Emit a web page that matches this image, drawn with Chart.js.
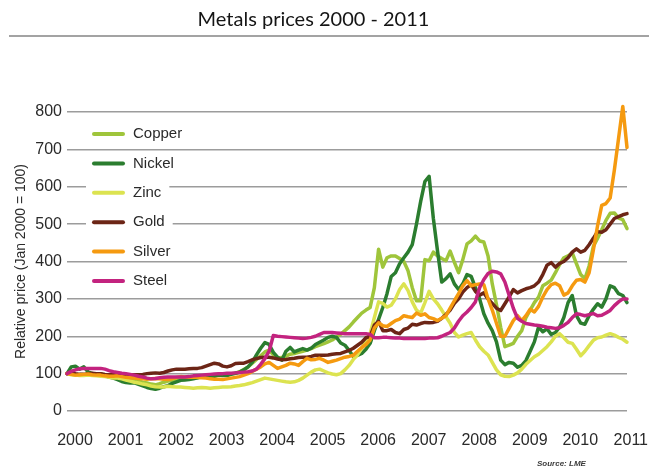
<!DOCTYPE html>
<html>
<head>
<meta charset="utf-8">
<title>Metals prices 2000 - 2011</title>
<script src="https://cdn.jsdelivr.net/npm/chart.js@4.4.1/dist/chart.umd.min.js"></script>
<style>
	html, body { margin: 0; padding: 0; background: #fff; }
	#wrap { position: relative; width: 649px; height: 473px; }
</style>
</head>
<body>
<div id="wrap"><canvas id="metalsChart"></canvas></div>
<script>
// monthly values, Jan 2000 = 100
var years = [2000, 2001, 2002, 2003, 2004, 2005, 2006, 2007, 2008, 2009, 2010];
var lastMonths = ['2011-01', '2011-02'];
var metals = ['Copper', 'Nickel', 'Zinc', 'Gold', 'Silver', 'Steel'];
var colours = ['#9fc53b', '#2b7d2f', '#dce350', '#6c2516', '#f59a10', '#c3237f'];
var yTicks = [0, 100, 200, 300, 400, 500, 600, 700, 800];

var copper = [
	100, 98, 97, 98, 97, 98, 99, 100, 99, 97, 95, 93,
	93, 90, 88, 85, 83, 80, 77, 75, 72, 70, 73, 77,
	80, 82, 84, 86, 87, 88, 88, 89, 90, 91, 93, 94,
	96, 96, 98, 100, 101, 105, 111, 118, 128, 138, 148, 158,
	163, 150, 142, 143, 147, 152, 154, 157, 160, 163, 167, 172,
	176, 180, 185, 190, 198, 205, 215, 225, 238, 250, 262, 270,
	277, 330, 433, 385, 410, 415, 415, 408, 400, 375, 330, 295,
	295, 405, 402, 425, 415, 408, 402, 428, 398, 370, 405, 447,
	455, 468, 455, 452, 415, 340, 285, 224, 172, 176, 181, 200,
	215, 250, 270, 290, 305, 335, 342, 350, 370, 392, 410, 415,
	423, 394, 365, 354, 388, 440, 462, 485, 510, 529, 530, 516,
	512, 488
];
var nickel = [
	100, 118, 120, 112, 118, 105, 100, 100, 99, 95, 91, 88,
	84, 79, 76, 75, 75, 71, 67, 63, 60, 58, 61, 65,
	68, 74, 78, 82, 83, 84, 86, 89, 92, 93, 94, 93,
	96, 95, 95, 98, 101, 104, 110, 118, 130, 150, 168, 183,
	178, 157, 144, 136, 160, 170, 158, 163, 167, 163, 168, 178,
	184, 190, 197, 200, 197, 182, 176, 162, 146, 149, 154, 165,
	181, 215, 245, 277, 314, 360, 370, 394, 410, 425, 445, 500,
	561, 614, 628, 516, 428, 345, 354, 367, 340, 325, 340, 365,
	360, 330, 300, 260, 235, 215, 185, 136, 124, 130, 128, 117,
	122, 135, 160, 185, 225, 212, 220, 205, 210, 225, 250, 290,
	309, 255, 235, 232, 255, 272, 287, 278, 300, 335, 330, 314,
	309, 290
];
var zinc = [
	100, 97, 96, 95, 95, 96, 95, 94, 93, 92, 90, 88,
	88, 86, 83, 80, 77, 75, 72, 70, 67, 65, 64, 64,
	66, 65, 64, 64, 63, 62, 61, 62, 63, 62, 61, 62,
	63, 64, 64, 65, 67, 68, 70, 73, 76, 80, 84, 88,
	86, 84, 82, 80, 78, 77, 78, 82, 88, 96, 104, 110,
	112, 107, 102, 99, 97, 100, 110, 122, 138, 150, 168, 188,
	207, 250, 292, 288, 278, 283, 300, 325, 340, 322, 292, 270,
	262, 290, 320, 300, 287, 270, 252, 235, 210, 198, 203, 207,
	210, 190, 172, 160, 150, 130, 110, 97, 93, 92, 96, 102,
	112, 125, 135, 145, 152, 162, 172, 185, 200, 207, 196, 184,
	181, 165, 148, 160, 175, 189, 196, 198, 203, 207, 203, 197,
	192, 184
];
var gold = [
	100, 103, 100, 98, 98, 100, 101, 100, 100, 98, 97, 99,
	98, 98, 97, 97, 97, 97, 98, 100, 101, 102, 101, 103,
	107, 110, 112, 112, 112, 113, 114, 114, 116, 120, 124, 128,
	126, 120, 118, 121, 127, 128, 128, 132, 137, 140, 143, 144,
	144, 142, 139, 137, 138, 140, 141, 143, 144, 144, 146, 149,
	149, 149, 150, 152, 153, 154, 158, 162, 168, 176, 184, 196,
	200, 230, 240, 215, 215, 218, 210, 207, 218, 222, 232, 230,
	234, 237, 236, 237, 240, 248, 258, 270, 288, 300, 318, 330,
	338, 320, 310, 316, 300, 288, 275, 269, 287, 305, 325, 316,
	322, 327, 330, 335, 345, 365, 390, 397, 385, 395, 400, 410,
	425, 434, 425, 430, 445, 462, 480, 478, 485, 500, 515, 520,
	525, 528
];
var silver = [
	100, 98, 96, 97, 98, 99, 97, 96, 96, 94, 93, 93,
	94, 92, 90, 89, 88, 87, 86, 85, 86, 87, 86, 85,
	84, 87, 90, 92, 91, 90, 91, 90, 89, 88, 86, 85,
	85, 84, 86, 88, 90, 92, 96, 100, 106, 112, 118, 126,
	130, 122, 114, 118, 122, 128, 126, 122, 132, 141, 137, 138,
	141, 136, 130, 133, 136, 140, 144, 146, 149, 160, 170, 178,
	190, 222, 236, 228, 226, 234, 242, 246, 255, 252, 250, 262,
	256, 260, 250, 247, 242, 248, 255, 275, 295, 314, 335, 349,
	335, 338, 340, 338, 300, 270, 235, 200, 200, 221, 242, 255,
	242, 255, 272, 265, 280, 305, 325, 338, 342, 335, 310, 316,
	335, 350, 352, 345, 370, 430, 495, 550, 555, 570, 645, 730,
	815, 705
];
var steel = [
	100, 106, 110, 113, 114, 114, 114, 114, 114, 112, 108, 105,
	103, 101, 100, 98, 96, 93, 91, 88, 86, 87, 89, 90,
	91, 91, 91, 91, 91, 92, 94, 95, 96, 97, 98, 99,
	100, 100, 101, 101, 102, 103, 104, 105, 107, 112, 125, 140,
	160, 202, 200, 199, 198, 197, 196, 195, 194, 195, 197, 200,
	205, 210, 210, 210, 209, 208, 207, 207, 207, 207, 207, 207,
	205, 196, 196, 197, 197, 196, 195, 195, 194, 194, 194, 194,
	194, 194, 195, 195, 196, 200, 205, 210, 222, 240, 255, 265,
	277, 292, 330, 352, 368, 374, 372, 367, 345, 310, 275, 248,
	240, 234, 232, 230, 229, 227, 224, 223, 221, 223, 229, 237,
	250, 260, 258, 255, 258, 261, 255, 256, 262, 269, 282, 292,
	300, 300
];
var series = [copper, nickel, zinc, gold, silver, steel];
var sourceText = 'Source: LME';

var months = [];
for (var y of years) {
	for (var m = 1; m <= 12; m++) {
		months.push(y + '-' + (m < 10 ? '0' + m : m));
	}
}
months = months.concat(lastMonths);

const FONT = '"Liberation Sans", Arial, sans-serif';

// legend sits inside the plot, each entry on a white patch
const insideLegend = {
	id: 'insideLegend',
	beforeDatasetsDraw(chart) {
		const c = chart.ctx;
		c.save();
		c.font = '15px ' + FONT;
		c.textBaseline = 'middle';
		for (var i = 0; i < metals.length; i++) {
			var yy = 134 + i * 29.4;
			var w = c.measureText(metals[i]).width;
			c.fillStyle = '#fff';
			c.fillRect(86, yy - 9, 133 - 86 + w + 8, 18);
			c.strokeStyle = colours[i];
			c.lineWidth = 4;
			c.lineCap = 'round';
			c.beginPath();
			c.moveTo(94, yy);
			c.lineTo(123, yy);
			c.stroke();
			c.fillStyle = '#2a2a2a';
			c.fillText(metals[i], 133, yy);
		}
		c.restore();
	}
};

const decor = {
	id: 'decor',
	afterDraw(chart) {
		const c = chart.ctx;
		c.save();
		c.strokeStyle = '#a3a3a3';
		c.lineWidth = 2;
		c.beginPath();
		c.moveTo(9, 36);
		c.lineTo(649, 36);
		c.stroke();
		c.font = 'italic bold 8px ' + FONT;
		c.fillStyle = '#3a3a3a';
		c.textBaseline = 'middle';
		c.fillText(sourceText, 537, 464);
		c.restore();
	}
};

var datasets = metals.map((name, i) => ({
	label: name,
	data: series[i],
	borderColor: colours[i],
	backgroundColor: colours[i],
	borderWidth: 3.5,
	pointRadius: 0,
	tension: 0,
	borderJoinStyle: 'round',
	borderCapStyle: 'round',
	clip: false,
	order: metals.length - i
}));

new Chart(document.getElementById('metalsChart'), {
	type: 'line',
	data: { labels: months, datasets: datasets },
	plugins: [insideLegend, decor],
	options: {
		responsive: true,
		maintainAspectRatio: false,
		animation: false,
		layout: { padding: { left: 0, right: 22, top: 0, bottom: 0 } },
		plugins: {
			legend: { display: false },
			tooltip: { enabled: false },
			title: {
				display: true,
				text: 'Metals prices 2000 - 2011',
				color: '#151515',
				font: { family: 'Lato, "Open Sans", sans-serif', size: 20, weight: 'normal', lineHeight: 1.2 },
				padding: { top: 8, bottom: 80 }
			}
		},
		scales: {
			x: {
				type: 'category',
				offset: false,
				grid: { display: false },
				border: { display: false },
				afterFit: (s) => { s.height = 62; },
				ticks: {
					autoSkip: false,
					maxRotation: 0,
					minRotation: 0,
					padding: 12,
					labelOffset: 8,
					color: '#2a2a2a',
					font: { family: FONT, size: 16 },
					callback: function(val, idx) {
						var lab = months[idx];
						return lab.endsWith('-01') ? lab.slice(0, 4) : '';
					}
				}
			},
			y: {
				min: 0,
				max: 800,
				afterFit: (s) => { s.width = 67; },
				afterBuildTicks: (s) => { s.ticks = yTicks.map(v => ({ value: v })); },
				grid: { color: '#9c9c9c', lineWidth: 1.5, drawTicks: false },
				border: { display: false },
				ticks: {
					padding: 5,
					color: '#2a2a2a',
					font: { family: FONT, size: 16 }
				},
				title: {
					display: true,
					text: 'Relative price (Jan 2000 = 100)',
					color: '#2a2a2a',
					font: { family: FONT, size: 14 },
					padding: { top: 13, bottom: 0 }
				}
			}
		}
	}
});
</script>
</body>
</html>
